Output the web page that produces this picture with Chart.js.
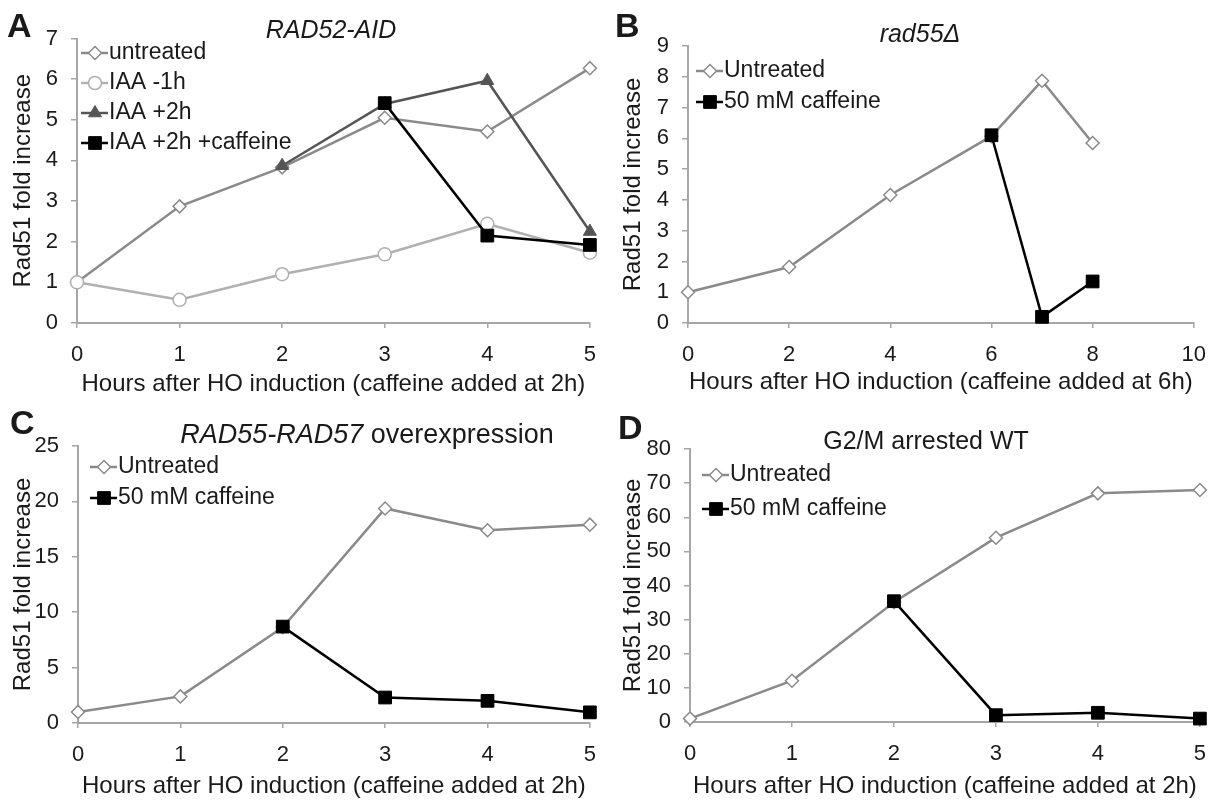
<!DOCTYPE html>
<html>
<head>
<meta charset="utf-8">
<script src="https://cdn.jsdelivr.net/npm/chart.js@4.4.0/dist/chart.umd.min.js"></script>
<style>
  body { margin: 0; background: #fff; width: 1220px; height: 801px; position: relative; overflow: hidden;
         font-family: 'Liberation Sans', Arial, sans-serif; color: #1a1a1a; }
  .panel { position: absolute; width: 610px; }
  .panel canvas { position: absolute; left: 0; top: 0; }
  .letter { position: absolute; font-weight: bold; font-size: 34px; line-height: 1; }
  .title { position: absolute; font-size: 25px; line-height: 1; white-space: nowrap; transform: translate(-50%, -50%); }
</style>
</head>
<body>
<div class="panel" style="left:0;top:0;height:400px">
  <canvas id="cA" width="610" height="400"></canvas>
  <div class="letter" style="left:7px;top:8px">A</div>
  <div class="title" style="left:331px;top:29px"><i>RAD52-AID</i></div>
</div>
<div class="panel" style="left:610px;top:0;height:400px">
  <canvas id="cB" width="610" height="400"></canvas>
  <div class="letter" style="left:5px;top:8px">B</div>
  <div class="title" style="left:310px;top:33px"><i>rad55Δ</i></div>
</div>
<div class="panel" style="left:0;top:400px;height:401px">
  <canvas id="cC" width="610" height="401"></canvas>
  <div class="letter" style="left:10px;top:5px">C</div>
  <div class="title" style="left:367px;top:34px;font-size:27px"><i>RAD55-RAD57</i> overexpression</div>
</div>
<div class="panel" style="left:610px;top:400px;height:401px">
  <canvas id="cD" width="610" height="401"></canvas>
  <div class="letter" style="left:8px;top:10px">D</div>
  <div class="title" style="left:316px;top:40px">G2/M arrested WT</div>
</div>
<script>
// A: RAD52-AID
const hoursA = [0, 1, 2, 3, 4, 5]
const untreatedA = [1.0, 2.87, 3.83, 5.05, 4.71, 6.27]
const iaaMinus1hA = [1.0, 0.57, 1.2, 1.69, 2.44, 1.73]
const iaaPlus2hA = [null, null, 3.87, 5.39, 5.96, 2.25]
const iaaCaffeineA = [null, null, null, 5.41, 2.15, 1.92]

// B: rad55 delta
const hoursB = [0, 2, 4, 6, 7, 8]
const untreatedB = [1.0, 1.82, 4.16, 6.07, 7.87, 5.85]
const caffeineB = [null, null, null, 6.1, 0.2, 1.35]

// C: RAD55-RAD57 overexpression
const hoursC = [0, 1, 2, 3, 4, 5]
const untreatedC = [1.0, 2.4, 8.64, 19.36, 17.4, 17.9]
const caffeineC = [null, null, 8.7, 2.3, 2.0, 0.96]

// D: G2/M arrested WT
const hoursD = [0, 1, 2, 3, 4, 5]
const untreatedD = [1.0, 12.1, 35.1, 54, 67, 68]
const caffeineD = [null, null, 35.4, 2.0, 2.7, 1.0]

const FONT = "'Liberation Sans', Arial, sans-serif"
const TEXT = '#1a1a1a'
const AXIS = '#a6a6a6'

const diamond = {borderColor: '#8a8a8a', pointBorderColor: '#8a8a8a', pointBackgroundColor: '#fff',
  pointStyle: 'rectRot', pointRadius: 6.5, pointBorderWidth: 1.5, borderWidth: 2.5}
const circle = {borderColor: '#b0b0b0', pointBorderColor: '#b0b0b0', pointBackgroundColor: '#fff',
  pointStyle: 'circle', pointRadius: 6.5, pointBorderWidth: 1.5, borderWidth: 2.5}
const triangle = {borderColor: '#555', pointBorderColor: '#555', pointBackgroundColor: '#555',
  pointStyle: 'triangle', pointRadius: 7.5, pointBorderWidth: 1, borderWidth: 2.5}
const square = {borderColor: '#000', pointBorderColor: '#000', pointBackgroundColor: '#000',
  pointStyle: 'rect', pointRadius: 9, pointBorderWidth: 1, borderWidth: 2.5}

// legend drawn as line + marker, like the spreadsheet legend
const lineLegend = {
  id: 'lineLegend',
  afterDraw(chart, args, opts) {
    const ctx = chart.ctx
    ctx.save()
    ctx.font = '23px ' + FONT
    ctx.textBaseline = 'middle'
    chart.data.datasets.forEach((d, i) => {
      const y = opts.y + i * opts.gap
      ctx.strokeStyle = d.borderColor
      ctx.lineWidth = d.borderWidth
      ctx.beginPath()
      ctx.moveTo(opts.x, y)
      ctx.lineTo(opts.x + 27, y)
      ctx.stroke()
      ctx.fillStyle = d.pointBackgroundColor
      ctx.strokeStyle = d.pointBorderColor
      ctx.lineWidth = d.pointBorderWidth
      Chart.helpers.drawPoint(ctx, {pointStyle: d.pointStyle, radius: d.pointRadius, rotation: 0,
        borderWidth: d.pointBorderWidth}, opts.x + 14, y)
      ctx.fillStyle = TEXT
      ctx.fillText(d.label, opts.x + 28, y)
    })
    ctx.restore()
  }
}

function panel(id, p) {
  const el = document.getElementById(id)
  const W = el.width, H = el.height
  return new Chart(el.getContext('2d'), {
    type: 'line',
    data: {
      datasets: p.sets.map(s => ({
        ...s.style,
        label: s.label,
        order: s.order,
        data: p.x.map((x, i) => ({x: x, y: s.y[i]})),
        tension: 0,
        clip: false
      }))
    },
    options: {
      responsive: false,
      animation: false,
      layout: {padding: {left: 0, top: p.area.top, right: W - p.area.right, bottom: 0}},
      plugins: {legend: {display: false}, tooltip: {enabled: false}, lineLegend: p.legend},
      scales: {
        x: {
          type: 'linear', min: 0, max: p.xMax,
          afterFit: s => { s.height = H - p.area.bottom },
          ticks: {stepSize: p.xStep, color: TEXT, padding: 14, font: {size: 22, family: FONT}},
          grid: {drawOnChartArea: false, drawTicks: true, tickLength: 5, color: AXIS, lineWidth: 1.5},
          border: {color: AXIS, width: 2},
          title: {display: true, text: p.xTitle, color: TEXT, font: {size: 24, family: FONT},
            padding: {top: 0, bottom: p.xTitlePad}}
        },
        y: {
          min: 0, max: p.yMax,
          afterFit: s => { s.width = p.area.left },
          ticks: {stepSize: p.yStep, color: TEXT, padding: 13, font: {size: 22, family: FONT}},
          grid: {drawOnChartArea: false, drawTicks: true, tickLength: 6, color: AXIS, lineWidth: 1.5},
          border: {color: AXIS, width: 2},
          title: {display: true, text: 'Rad51 fold increase', color: TEXT, font: {size: 24, family: FONT},
            padding: {top: 9, bottom: 0}}
        }
      }
    },
    plugins: [lineLegend]
  })
}

panel('cA', {
  x: hoursA, xMax: 5, xStep: 1, yMax: 7, yStep: 1,
  area: {left: 77, top: 38.5, right: 593, bottom: 323},
  xTitle: 'Hours after HO induction (caffeine added at 2h)', xTitlePad: 1,
  legend: {x: 81, y: 53, gap: 30},
  sets: [
    {label: 'untreated', y: untreatedA, style: diamond, order: 3},
    {label: 'IAA -1h', y: iaaMinus1hA, style: circle, order: 2},
    {label: 'IAA +2h', y: iaaPlus2hA, style: triangle, order: 1},
    {label: 'IAA +2h +caffeine', y: iaaCaffeineA, style: square, order: 0}
  ]
})

panel('cB', {
  x: hoursB, xMax: 10, xStep: 2, yMax: 9, yStep: 1,
  area: {left: 78, top: 46, right: 590, bottom: 323},
  xTitle: 'Hours after HO induction (caffeine added at 6h)', xTitlePad: 3,
  legend: {x: 86, y: 71, gap: 31},
  sets: [
    {label: 'Untreated', y: untreatedB, style: diamond, order: 1},
    {label: '50 mM caffeine', y: caffeineB, style: square, order: 0}
  ]
})

panel('cC', {
  x: hoursC, xMax: 5, xStep: 1, yMax: 25, yStep: 5,
  area: {left: 78, top: 46, right: 594, bottom: 323},
  xTitle: 'Hours after HO induction (caffeine added at 2h)', xTitlePad: 0,
  legend: {x: 90, y: 67, gap: 31},
  sets: [
    {label: 'Untreated', y: untreatedC, style: diamond, order: 1},
    {label: '50 mM caffeine', y: caffeineC, style: square, order: 0}
  ]
})

panel('cD', {
  x: hoursD, xMax: 5, xStep: 1, yMax: 80, yStep: 10,
  area: {left: 80, top: 49, right: 591, bottom: 322},
  xTitle: 'Hours after HO induction (caffeine added at 2h)', xTitlePad: 0,
  legend: {x: 92, y: 75, gap: 34},
  sets: [
    {label: 'Untreated', y: untreatedD, style: diamond, order: 1},
    {label: '50 mM caffeine', y: caffeineD, style: square, order: 0}
  ]
})
</script>
</body>
</html>
